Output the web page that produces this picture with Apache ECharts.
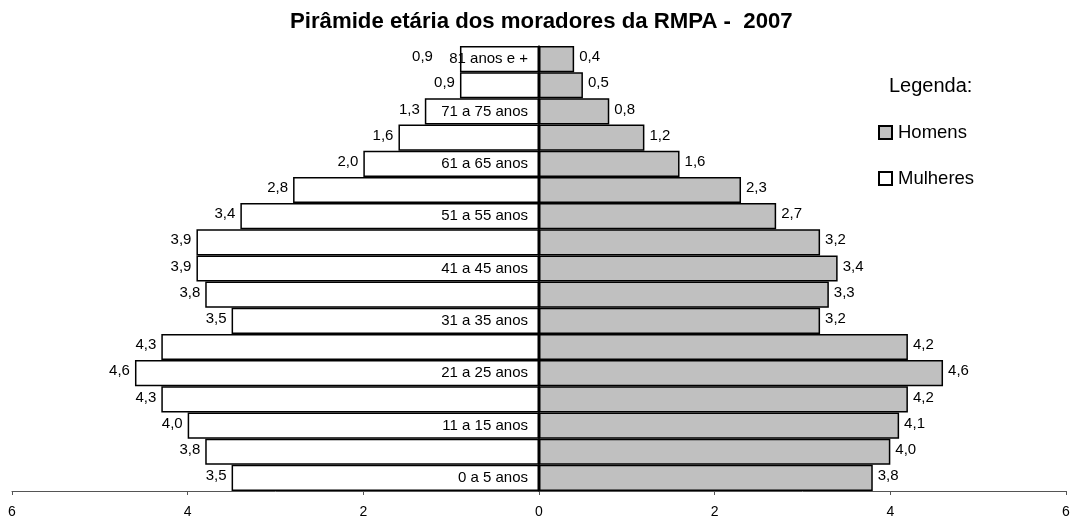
<!DOCTYPE html>
<html><head><meta charset="utf-8">
<script src="https://cdn.jsdelivr.net/npm/echarts@6/dist/echarts.min.js"></script>
<style>html,body{margin:0;padding:0;background:#fff}#c{width:1070px;height:521px}</style>
</head><body><div id="c"></div>
<script>
const categories = ['0 a 5 anos','6 a 10 anos','11 a 15 anos','16 a 20 anos','21 a 25 anos','26 a 30 anos','31 a 35 anos','36 a 40 anos','41 a 45 anos','46 a 50 anos','51 a 55 anos','56 a 60 anos','61 a 65 anos','66 a 70 anos','71 a 75 anos','76 a 80 anos','81 anos e +'];
const homens = [3.8,4.0,4.1,4.2,4.6,4.2,3.2,3.3,3.4,3.2,2.7,2.3,1.6,1.2,0.8,0.5,0.4];
const mulheres = [3.5,3.8,4.0,4.3,4.6,4.3,3.5,3.8,3.9,3.9,3.4,2.8,2.0,1.6,1.3,0.9,0.9];
const xTicks = [-6,-4,-2,0,2,4,6];

const font = 'Liberation Sans, Arial, sans-serif';
const fmt = v => Math.abs(v).toFixed(1).replace('.', ',');
const W = 1070, GL = 12, GR = 4;
const zeroX = GL + (W - GL - GR) * (0 - xTicks[0]) / (xTicks[xTicks.length-1] - xTicks[0]);
const womenData = mulheres.map((v, i) => i === mulheres.length - 1
  ? {value: -v, label: {offset: [-22, -2]}}
  : -v);
const chart = echarts.init(document.getElementById('c'));
chart.setOption({
  animation: false,
  backgroundColor: '#fff',
  title: [
    {text: 'Pirâmide etária dos moradores da RMPA -  2007', left: 285, top: 6,
     textStyle: {fontFamily: font, fontSize: 22.2, fontWeight: 'bold', color: '#000'}},
    {text: 'Legenda:', left: 884, top: 71,
     textStyle: {fontFamily: font, fontSize: 20, fontWeight: 'normal', color: '#000'}}
  ],
  legend: {
    orient: 'vertical', left: 873, top: 118, itemWidth: 13, itemHeight: 13, itemGap: 27,
    icon: 'rect',
    textStyle: {fontFamily: font, fontSize: 18.5, color: '#000', padding: [0,0,0,1]},
    data: ['Homens', 'Mulheres']
  },
  grid: {left: GL, right: GR, top: 46, bottom: 30, containLabel: false, outerBoundsMode: 'none'},
  xAxis: {
    type: 'value', min: xTicks[0], max: xTicks[xTicks.length-1], interval: 2,
    splitLine: {show: false},
    axisLine: {show: true, onZero: false, lineStyle: {color: '#555', width: 1}},
    axisTick: {show: true, length: 4, lineStyle: {color: '#555'}},
    axisLabel: {margin: 14, fontFamily: font, fontSize: 14, color: '#000', formatter: v => Math.abs(v)}
  },
  yAxis: {
    type: 'category', data: categories, z: 10, position: 'left', offset: -(zeroX - GL),
    axisLine: {show: true, onZero: false, lineStyle: {color: '#000', width: 1.5}},
    axisTick: {show: false},
    axisLabel: {interval: 1, margin: 11, fontFamily: font, fontSize: 15, color: '#000'}
  },
  series: [
    {name: 'Homens', type: 'bar', stack: 'p', barCategoryGap: '0%', data: homens,
     itemStyle: {color: '#c0c0c0', borderColor: '#000', borderWidth: 1.5},
     label: {show: true, position: 'right', distance: 5, offset: [0,-2], fontFamily: font, fontSize: 15, color: '#000', formatter: p => fmt(p.value)}},
    {name: 'Mulheres', type: 'bar', stack: 'p', barCategoryGap: '0%', data: womenData,
     itemStyle: {color: '#fff', borderColor: '#000', borderWidth: 1.5},
     label: {show: true, position: 'left', distance: 5, offset: [0,-2], fontFamily: font, fontSize: 15, color: '#000', formatter: p => fmt(p.value)}}
  ]
});
</script></body></html>
